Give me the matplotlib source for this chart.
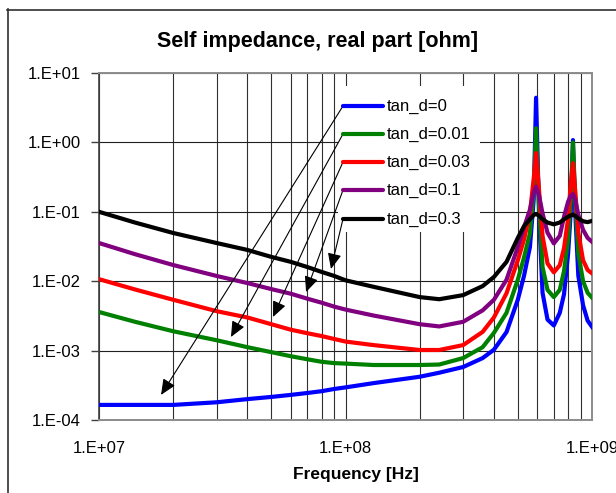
import matplotlib
matplotlib.use("Agg")
import matplotlib.pyplot as plt
from matplotlib.lines import Line2D
from matplotlib.patches import Rectangle
from matplotlib.ticker import FixedLocator, NullLocator, LogLocator, NullFormatter

plt.rcParams['font.family'] = ['Liberation Sans', 'DejaVu Sans']

# Frequency points [Hz]
freq = [1e7, 1.4e7, 2e7, 3e7, 4e7, 5e7, 6e7, 7e7, 8e7, 9e7, 1e8,
        1.3e8, 2e8, 2.4e8, 3e8, 3.6e8, 4e8, 4.5e8, 5e8, 5.3e8, 5.6e8,
        5.8e8, 5.93e8, 6.1e8, 6.3e8, 6.6e8, 7e8, 7.4e8, 7.7e8, 8e8, 8.2e8,
        8.37e8, 8.55e8, 8.8e8, 9.2e8, 9.6e8, 1e9]

# Real part of the self impedance [ohm] for each loss tangent
re_tan0 = [1.65e-4, 1.65e-4, 1.65e-4, 1.8e-4, 2.0e-4, 2.15e-4, 2.3e-4, 2.45e-4, 2.6e-4, 2.8e-4, 2.95e-4,
           3.4e-4, 4.2e-4, 4.8e-4, 5.8e-4, 7.8e-4, 1.03e-3, 1.85e-3, 5.4e-3, 0.012, 0.031,
           0.15, 4.4, 0.09, 0.0068, 0.0028, 0.0023, 0.0035, 0.0065, 0.025, 0.1,
           1.08, 0.1, 0.012, 0.0045, 0.0027, 0.0022]
re_tan001 = [3.6e-3, 2.6e-3, 1.9e-3, 1.41e-3, 1.12e-3, 9.5e-4, 8.3e-4, 7.5e-4, 6.9e-4, 6.6e-4, 6.5e-4,
             6.2e-4, 6.2e-4, 6.3e-4, 7.8e-4, 1.12e-3, 1.8e-3, 3.5e-3, 0.0105, 0.022, 0.049,
             0.2, 1.6, 0.12, 0.016, 0.0075, 0.0059, 0.0075, 0.014, 0.04, 0.15,
             1.0, 0.15, 0.025, 0.01, 0.0068, 0.0058]
re_tan003 = [0.0107, 0.0076, 0.0054, 0.0037, 0.0030, 0.0024, 0.0020, 0.00178, 0.00162, 0.00147, 0.00135,
             0.0012, 0.00102, 0.00102, 0.0012, 0.00186, 0.0030, 0.0067, 0.020, 0.04, 0.096,
             0.3, 0.7, 0.2, 0.045, 0.018, 0.0134, 0.017, 0.03, 0.08, 0.25,
             0.5, 0.2, 0.05, 0.02, 0.0145, 0.013]
re_tan01 = [0.0355, 0.0245, 0.0171, 0.0119, 0.0094, 0.0077, 0.0066, 0.0056, 0.0049, 0.0043, 0.0039,
            0.0032, 0.0024, 0.00223, 0.0026, 0.0038, 0.0054, 0.0105, 0.031, 0.06, 0.107,
            0.19, 0.23, 0.17, 0.095, 0.05, 0.035, 0.045, 0.085, 0.14, 0.17,
            0.18, 0.15, 0.09, 0.055, 0.042, 0.037]
re_tan03 = [0.1, 0.07, 0.0495, 0.0355, 0.0282, 0.0224, 0.019, 0.016, 0.0136, 0.0119, 0.0103,
            0.0083, 0.0059, 0.0055, 0.0063, 0.0085, 0.0115, 0.019, 0.042, 0.062, 0.078,
            0.09, 0.093, 0.088, 0.078, 0.07, 0.066, 0.07, 0.078, 0.085, 0.089,
            0.09, 0.088, 0.08, 0.073, 0.071, 0.074]

series_labels = ["tan_d=0", "tan_d=0.01", "tan_d=0.03", "tan_d=0.1", "tan_d=0.3"]
series_values = [re_tan0, re_tan001, re_tan003, re_tan01, re_tan03]
series_colors = ["#0000FF", "#008000", "#FF0000", "#800080", "#000000"]

# Points on each curve that the label arrows point to (freq, value)
arrow_freq = [1.785e7, 3.43e7, 5.08e7, 6.92e7, 8.73e7]
arrow_value = [2.3e-4, 1.57e-3, 3.05e-3, 6.98e-3, 0.015]

y_ticks = [1e-4, 1e-3, 1e-2, 1e-1, 1e0, 1e1]
y_tick_labels = ["1.E-04", "1.E-03", "1.E-02", "1.E-01", "1.E+00", "1.E+01"]
x_ticks = [1e7, 1e8, 1e9]
x_tick_labels = ["1.E+07", "1.E+08", "1.E+09"]

W, H = 616, 493
fig = plt.figure(figsize=(W / 100, H / 100), dpi=100)
fig.patch.set_facecolor("white")


def fx(px):
    return px / W


def fy(py):
    return 1 - py / H


# Outer chart frame
fig.add_artist(Line2D([fx(7.5), fx(7.5)], [fy(9), fy(H + 5)], color="#303030", lw=1.2,
                      transform=fig.transFigure))
fig.add_artist(Line2D([fx(7), fx(W + 5)], [fy(9.5), fy(9.5)], color="#303030", lw=1.2,
                      transform=fig.transFigure))

left, right, top, bottom = 99, 592, 73, 420
ax = fig.add_axes([fx(left), fy(bottom), fx(right - left), (bottom - top) / H])
ax.set_xscale("log")
ax.set_yscale("log")
ax.set_xlim(1e7, 1e9)
ax.set_ylim(1e-4, 1e1)

ax.xaxis.set_major_locator(FixedLocator(x_ticks))
ax.xaxis.set_minor_locator(LogLocator(base=10, subs=range(2, 10)))
ax.xaxis.set_minor_formatter(NullFormatter())
ax.set_xticks(x_ticks)
ax.set_xticklabels(x_tick_labels)
ax.yaxis.set_major_locator(FixedLocator(y_ticks))
ax.yaxis.set_minor_locator(NullLocator())
ax.set_yticks(y_ticks)
ax.set_yticklabels(y_tick_labels)

ax.tick_params(axis="x", which="both", length=0, pad=15, labelsize=12)
ax.tick_params(axis="y", which="major", length=6, width=1, color="#404040",
               direction="out", pad=7, labelsize=12)

ax.grid(True, axis="x", which="both", color="#303030", lw=0.8)
ax.grid(True, axis="y", which="major", color="#202020", lw=0.8)
ax.set_axisbelow(True)

for side in ("top", "right", "bottom"):
    ax.spines[side].set_color("#8c8c8c")
    ax.spines[side].set_linewidth(1.4)
ax.spines["left"].set_color("#404040")
ax.spines["left"].set_linewidth(1.2)

# White panel behind the series labels
ax.add_patch(Rectangle((fx(338), fy(232)), fx(480 - 338), (232 - 86) / H,
                       transform=fig.transFigure, facecolor="white", edgecolor="none",
                       zorder=1.5))

for vals, col in zip(series_values, series_colors):
    ax.plot(freq, vals, color=col, lw=3.0, solid_joinstyle="round", zorder=3)

# Series labels with sample lines and arrows
label_y = [106, 134, 162, 190, 219]
for lab, col, ly, af, av in zip(series_labels, series_colors, label_y, arrow_freq, arrow_value):
    fig.add_artist(Line2D([fx(343), fx(383)], [fy(ly), fy(ly)], color=col, lw=3.0,
                          solid_capstyle="round", transform=fig.transFigure, zorder=4))
    fig.text(fx(387), fy(ly), lab, fontsize=12, va="center", ha="left", zorder=4)
    ax.annotate("", xy=(af, av), xycoords="data",
                xytext=(fx(343), fy(ly)), textcoords="figure fraction",
                arrowprops=dict(arrowstyle="-|>,head_length=0.95,head_width=0.42",
                                mutation_scale=10, color="black", lw=0.8,
                                shrinkA=0, shrinkB=0),
                zorder=5, annotation_clip=False)

fig.text(fx(318), fy(42), "Self impedance, real part [ohm]", fontsize=15.5,
         fontweight="bold", ha="center", va="center")
fig.text(fx(356), fy(474), "Frequency [Hz]", fontsize=12.5, fontweight="bold",
         ha="center", va="center")

fig.savefig("out.png", dpi=100, facecolor="white")
